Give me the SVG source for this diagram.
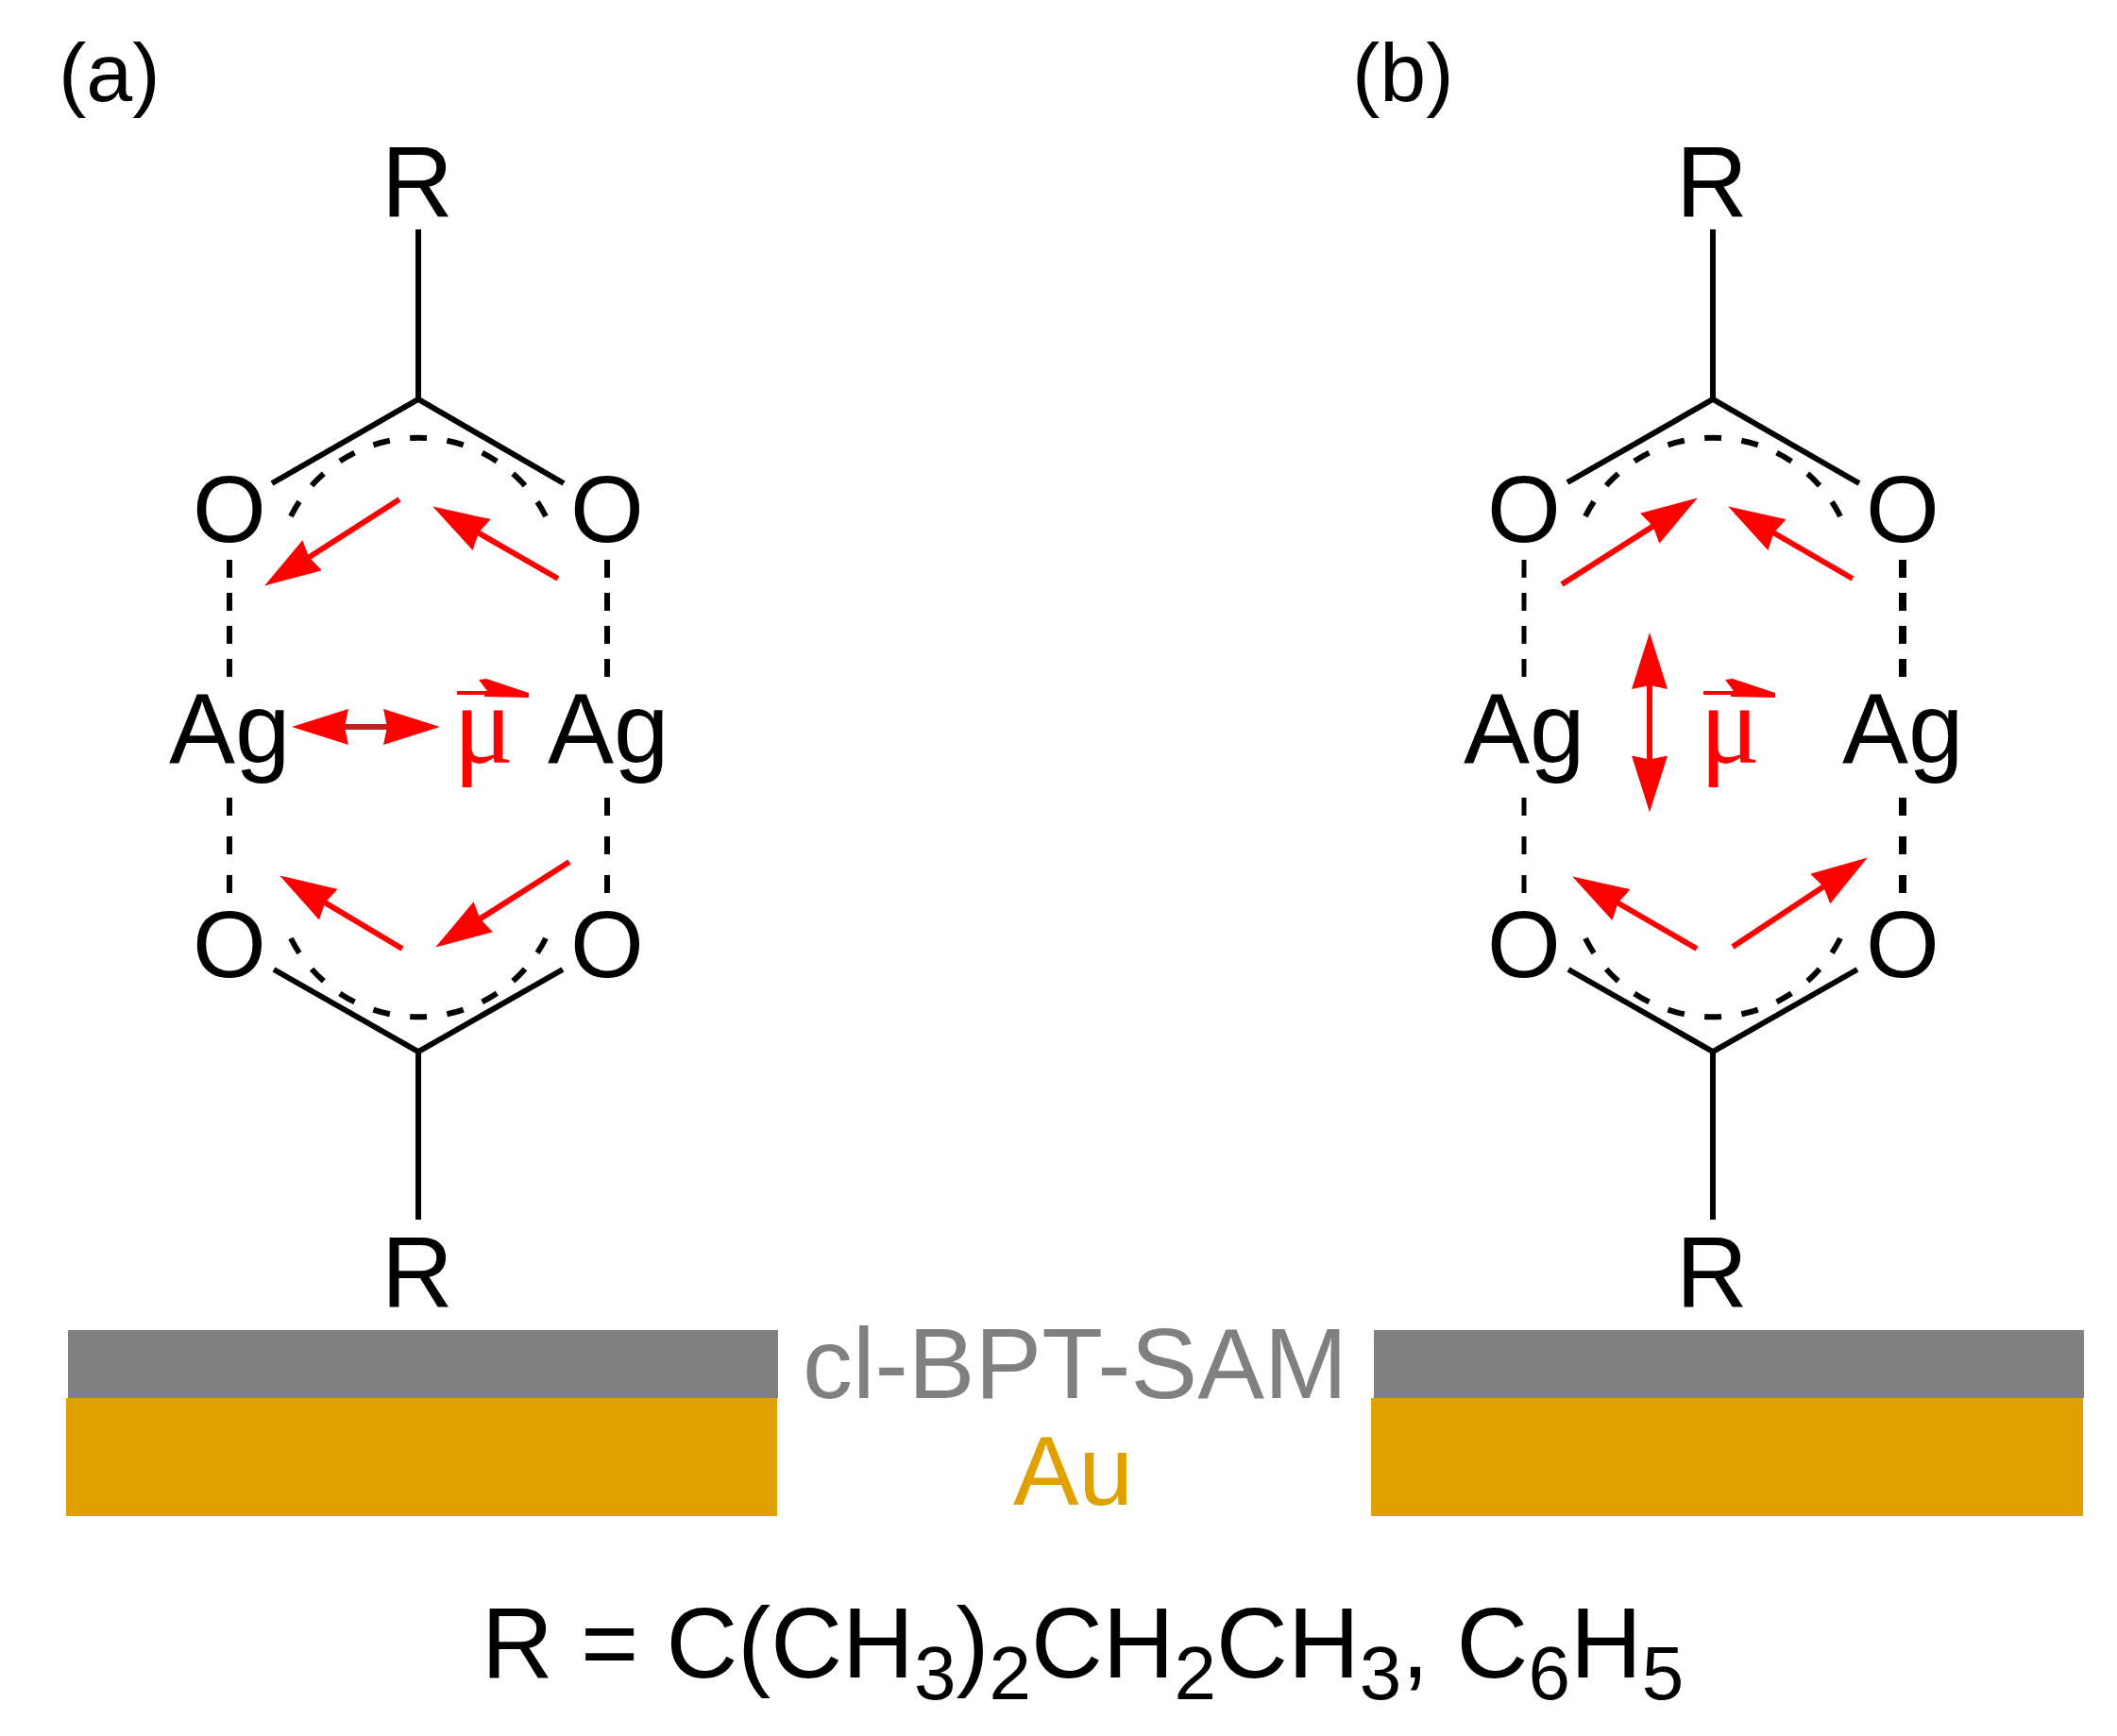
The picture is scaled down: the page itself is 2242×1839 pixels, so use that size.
<svg xmlns="http://www.w3.org/2000/svg" xmlns:xlink="http://www.w3.org/1999/xlink" width="2242" height="1839" viewBox="0 0 2242 1839">
<defs>
<marker id="head" markerUnits="userSpaceOnUse" markerWidth="62" markerHeight="38" refX="34" refY="19" orient="auto-start-reverse"><path d="M60,19 L0,0 L4,19 L0,38 Z" fill="#ff0000"/></marker>
<path id="muBar" d="M484,732 L516,732 L507,720 L515,719 L560,734 L560,739 L513,738 L513,736 L484,736 Z" fill="#ff0000"/>
</defs>
<style>
text{font-family:"Liberation Sans",Arial,sans-serif;fill:#000}
.atom{font-size:105px}
.oxy{font-size:100px}
.lab{font-size:88px}
.mu{font-family:"Liberation Serif","Times New Roman",serif;font-size:120px;fill:#ff0000}
.bond{stroke:#000;stroke-width:6;fill:none}
.dash{stroke:#000;stroke-width:6;fill:none;stroke-dasharray:19 16}
.dash2{stroke:#000;stroke-width:6;fill:none;stroke-dasharray:19 22}
.arc{stroke:#000;stroke-width:6;fill:none;stroke-dasharray:18 21.5}
.red{stroke:#ff0000;stroke-width:6;fill:none;marker-end:url(#head)}
.sub{font-size:80px}
</style>
<rect width="2242" height="1839" fill="#fff"/>
<g id="label-a"><text class="lab" x="62" y="107">(a)</text></g>
<g id="label-b"><text class="lab" x="1432" y="107">(b)</text></g>

<g id="connectors">
<g id="bonds-a">
<path class="bond" d="M443,243V423M288,512L443,423L597,512"/>
<path class="bond" d="M443,1292V1114M290,1027L443,1114L596,1027"/>
<path class="arc" d="M308,547A151,151 0 0 1 578,547"/>
<path class="arc" d="M308,994A151,151 0 0 0 578,994"/>
<path class="dash" d="M243,593V719M643,593V719"/>
<path class="dash2" d="M243,845V947M643,845V947"/>
</g>
<g id="bonds-b">
<path class="bond" d="M1814,243V423M1660,511L1814,423L1969,512"/>
<path class="bond" d="M1814,1292V1114M1661,1027L1814,1114L1967,1027"/>
<path class="arc" d="M1679,547A151,151 0 0 1 1949,547"/>
<path class="arc" d="M1679,994A151,151 0 0 0 1949,994"/>
<path class="dash" style="stroke-width:5" d="M1614,593V719"/>
<path class="dash" style="stroke-width:8" d="M2015,593V719"/>
<path class="dash2" style="stroke-width:5" d="M1614,845V947"/>
<path class="dash2" style="stroke-width:8" d="M2015,845V947"/>
</g>
<g id="arrows-a">
<path class="red" d="M423,529L302,606.5"/>
<path class="red" d="M591,613L480.7,549.5"/>
<path class="red" d="M426,1005L318.5,940.8"/>
<path class="red" d="M603,913L483.1,989.5"/>
<path class="red" style="stroke:#c02020;marker-start:url(#head)" d="M335,770H440"/>
</g>
<g id="arrows-b">
<path class="red" d="M1654,619L1775.9,541.4"/>
<path class="red" d="M1962,613L1852.6,549.5"/>
<path class="red" d="M1797,1005L1687.6,941.5"/>
<path class="red" d="M1835,1003L1956.1,922.8"/>
<path class="red" style="marker-start:url(#head)" d="M1747,696V834.5"/>
</g>
</g>

<g id="atoms-a">
<g id="a-R-top"><text class="atom" x="442" y="229" text-anchor="middle">R</text></g>
<g id="a-O-tl"><text class="oxy" x="243" y="574" text-anchor="middle">O</text></g>
<g id="a-O-tr"><text class="oxy" x="643" y="574" text-anchor="middle">O</text></g>
<g id="a-Ag-l"><text class="atom" x="179" y="808">Ag</text></g>
<g id="a-Ag-r"><text class="atom" x="580" y="808">Ag</text></g>
<g id="a-O-bl"><text class="oxy" x="243" y="1035" text-anchor="middle">O</text></g>
<g id="a-O-br"><text class="oxy" x="643" y="1035" text-anchor="middle">O</text></g>
<g id="a-R-bottom"><text class="atom" x="442" y="1384" text-anchor="middle">R</text></g>
<g id="a-mu"><text class="mu" x="480" y="808">μ</text><use xlink:href="#muBar" href="#muBar"/></g>
</g>
<g id="atoms-b">
<g id="b-R-top"><text class="atom" x="1813" y="229" text-anchor="middle">R</text></g>
<g id="b-O-tl"><text class="oxy" x="1614" y="574" text-anchor="middle">O</text></g>
<g id="b-O-tr"><text class="oxy" x="2015" y="574" text-anchor="middle">O</text></g>
<g id="b-Ag-l"><text class="atom" x="1550" y="808">Ag</text></g>
<g id="b-Ag-r"><text class="atom" x="1951" y="808">Ag</text></g>
<g id="b-O-bl"><text class="oxy" x="1614" y="1035" text-anchor="middle">O</text></g>
<g id="b-O-br"><text class="oxy" x="2015" y="1035" text-anchor="middle">O</text></g>
<g id="b-R-bottom"><text class="atom" x="1813" y="1384" text-anchor="middle">R</text></g>
<g id="b-mu"><text class="mu" x="1800" y="808">μ</text><use xlink:href="#muBar" href="#muBar" x="1320"/></g>
</g>

<g id="substrate-a">
<rect x="72" y="1409" width="752" height="72" fill="#808080"/>
<rect x="70" y="1481" width="753" height="125" fill="#e0a000"/>
</g>
<g id="substrate-b">
<rect x="1455" y="1409" width="752" height="72" fill="#808080"/>
<rect x="1452" y="1481" width="754" height="125" fill="#e0a000"/>
</g>
<g id="label-sam"><text x="850" y="1481" font-size="106" style="fill:#808080">cl-BPT-SAM</text></g>
<g id="label-au"><text x="1073" y="1594" font-size="104" style="fill:#e0a000">Au</text></g>
<g id="formula"><text x="510" y="1777" font-size="105">R = C(CH<tspan class="sub" dy="23">3</tspan><tspan dy="-23">)</tspan><tspan class="sub" dy="23">2</tspan><tspan dy="-23">CH</tspan><tspan class="sub" dy="23">2</tspan><tspan dy="-23">CH</tspan><tspan class="sub" dy="23">3</tspan><tspan dy="-23">, C</tspan><tspan class="sub" dy="23">6</tspan><tspan dy="-23">H</tspan><tspan class="sub" dy="23">5</tspan></text></g>
</svg>
